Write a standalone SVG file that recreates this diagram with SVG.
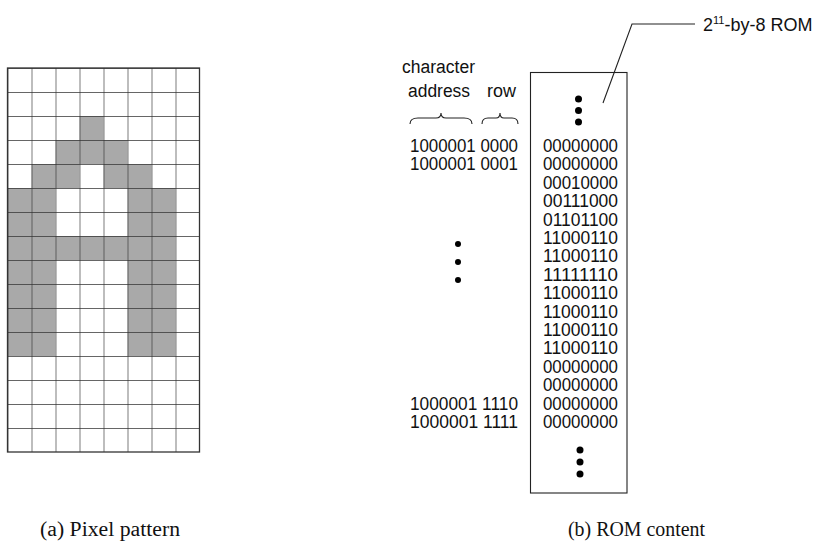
<svg xmlns="http://www.w3.org/2000/svg" width="817" height="549" viewBox="0 0 817 549">
<style>
.sans{font-family:"Liberation Sans",Arial,sans-serif;font-size:18px;fill:#111}
.serif{font-family:"Liberation Serif","Times New Roman",serif;font-size:20px;fill:#111}
.on{fill:#a9a9a9}
.grid{stroke:#333;stroke-width:1.3;fill:none}
.line{stroke:#222;stroke-width:1.1;fill:none}
.dot{fill:#000}
</style>
<defs>
<pattern id="cells" x="7.5" y="68" width="24" height="24" patternUnits="userSpaceOnUse">
<path d="M0 0H24M0 0V24" stroke="#333" stroke-width="1.3" fill="none"/>
</pattern>
</defs>
<g id="pixel-grid">
<rect x="7.5" y="68" width="192" height="384" fill="#fff"/>
<g class="on">
<rect x="79.5" y="116" width="24" height="24"/>
<rect x="55.5" y="140" width="72" height="24"/>
<rect x="31.5" y="164" width="48" height="24"/>
<rect x="103.5" y="164" width="48" height="24"/>
<rect x="7.5" y="188" width="48" height="48"/>
<rect x="127.5" y="188" width="48" height="48"/>
<rect x="7.5" y="236" width="168" height="24"/>
<rect x="7.5" y="260" width="48" height="96"/>
<rect x="127.5" y="260" width="48" height="96"/>
</g>
<rect x="7.5" y="68" width="192" height="384" fill="url(#cells)"/>
<rect class="grid" x="7.5" y="68" width="192" height="384"/>
</g>
<g id="caption-a"><text class="serif" x="40" y="536" textLength="140" lengthAdjust="spacingAndGlyphs">(a)  Pixel pattern</text></g>
<g id="caption-b"><text class="serif" x="568" y="536" textLength="137" lengthAdjust="spacingAndGlyphs">(b)  ROM content</text></g>
<g id="address-labels">
<text class="sans" x="402" y="73" textLength="73" lengthAdjust="spacingAndGlyphs">character</text>
<text class="sans" x="408" y="97" textLength="62" lengthAdjust="spacingAndGlyphs">address</text>
<text class="sans" x="487" y="97" textLength="29" lengthAdjust="spacingAndGlyphs">row</text>
<path class="line" d="M410 124 Q410 118 418 118 L436 118 Q441 118 441 113 Q441 118 446 118 L464 118 Q472 118 472 124"/>
<path class="line" d="M482 124 Q482 118 488 118 L496 118 Q500 118 500 113 Q500 118 504 118 L512 118 Q518 118 518 124"/>
<text class="sans" x="410" y="152" textLength="108" lengthAdjust="spacingAndGlyphs">1000001 0000</text>
<text class="sans" x="410" y="170.4" textLength="108" lengthAdjust="spacingAndGlyphs">1000001 0001</text>
<text class="sans" x="410" y="409.6" textLength="108" lengthAdjust="spacingAndGlyphs">1000001 1110</text>
<text class="sans" x="410" y="428" textLength="108" lengthAdjust="spacingAndGlyphs">1000001 1111</text>
<circle class="dot" cx="458" cy="244" r="3"/>
<circle class="dot" cx="458" cy="262" r="3"/>
<circle class="dot" cx="458" cy="280" r="3"/>
</g>
<g id="rom">
<rect class="line" x="530.5" y="72.5" width="96.5" height="420.5"/>
<circle class="dot" cx="578.5" cy="99" r="3.5"/>
<circle class="dot" cx="578.5" cy="110.5" r="3.5"/>
<circle class="dot" cx="578.5" cy="122" r="3.5"/>
<g class="sans" text-anchor="middle">
<text x="580.5" y="152" textLength="75" lengthAdjust="spacingAndGlyphs">00000000</text>
<text x="580.5" y="170.4" textLength="75" lengthAdjust="spacingAndGlyphs">00000000</text>
<text x="580.5" y="188.8" textLength="75" lengthAdjust="spacingAndGlyphs">00010000</text>
<text x="580.5" y="207.2" textLength="75" lengthAdjust="spacingAndGlyphs">00111000</text>
<text x="580.5" y="225.6" textLength="75" lengthAdjust="spacingAndGlyphs">01101100</text>
<text x="580.5" y="244" textLength="75" lengthAdjust="spacingAndGlyphs">11000110</text>
<text x="580.5" y="262.4" textLength="75" lengthAdjust="spacingAndGlyphs">11000110</text>
<text x="580.5" y="280.8" textLength="75" lengthAdjust="spacingAndGlyphs">11111110</text>
<text x="580.5" y="299.2" textLength="75" lengthAdjust="spacingAndGlyphs">11000110</text>
<text x="580.5" y="317.6" textLength="75" lengthAdjust="spacingAndGlyphs">11000110</text>
<text x="580.5" y="336" textLength="75" lengthAdjust="spacingAndGlyphs">11000110</text>
<text x="580.5" y="354.4" textLength="75" lengthAdjust="spacingAndGlyphs">11000110</text>
<text x="580.5" y="372.8" textLength="75" lengthAdjust="spacingAndGlyphs">00000000</text>
<text x="580.5" y="391.2" textLength="75" lengthAdjust="spacingAndGlyphs">00000000</text>
<text x="580.5" y="409.6" textLength="75" lengthAdjust="spacingAndGlyphs">00000000</text>
<text x="580.5" y="428" textLength="75" lengthAdjust="spacingAndGlyphs">00000000</text>
</g>
<circle class="dot" cx="580" cy="450" r="3.5"/>
<circle class="dot" cx="580" cy="462" r="3.5"/>
<circle class="dot" cx="580" cy="474" r="3.5"/>
</g>
<g id="rom-label"><text class="sans" x="703" y="31" font-size="17">2<tspan font-size="11" dy="-7">11</tspan><tspan dy="7">-by-8 ROM</tspan></text></g>
<g id="connectors">
<path class="line" d="M603 103 L632 24 L695 24"/>
</g>
</svg>
